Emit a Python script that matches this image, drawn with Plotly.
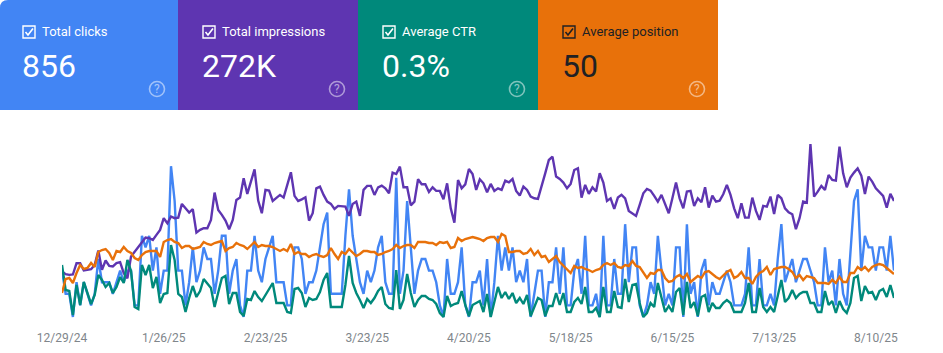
import pandas as pd
import plotly.graph_objects as go

W, H = 943, 353
dates = pd.date_range("2024-12-29", "2025-08-15").strftime("%Y-%m-%d").tolist()

tick_dates = ["2024-12-29", "2025-01-26", "2025-02-23", "2025-03-23", "2025-04-20",
              "2025-05-18", "2025-06-15", "2025-07-13", "2025-08-10"]
tick_labels = ["12/29/24", "1/26/25", "2/23/25", "3/23/25", "4/20/25",
               "5/18/25", "6/15/25", "7/13/25", "8/10/25"]

card_titles = ["Total clicks", "Total impressions", "Average CTR", "Average position"]
card_values = ["856", "272K", "0.3%", "50"]
card_colors = ["#4285f4", "#5e35b1", "#00897b", "#e8710a"]
card_inks = ["#ffffff", "#ffffff", "#ffffff", "#202124"]

clicks = [4,2,2,0,3,1,3,2,1,2,5,3,3,3,2,3,4,3,4,4,1,1,7,6,7,4,6,2,4,4,
          13,10,4,4,1,3,6,3,4,6,5,5,2,4,7,7,2,4,5,1,0,4,4,7,4,3,5,6,7,3,
          3,3,1,1,6,6,5,2,3,3,4,6,8,9,2,2,2,2,7,11,7,5,3,2,4,3,4,6,7,3,
          2,2,12,2,4,10,6,2,4,5,5,4,4,3,1,0,5,2,2,3,6,1,0,3,3,4,1,5,0,3,
          7,4,6,4,6,3,4,3,5,0,2,4,4,0,3,3,6,2,6,1,1,4,5,2,7,1,1,2,0,7,
          1,1,5,2,2,8,3,6,6,1,0,1,3,2,7,4,1,2,1,6,6,0,8,2,3,0,4,5,1,3,
          2,2,3,4,3,1,1,1,2,6,1,1,5,1,1,2,1,5,8,3,4,5,3,4,5,5,4,3,1,1,
          6,3,4,1,5,2,1,6,10,11,4,7,6,6,4,6,6,4,7,4]

impressions = [455,428,421,425,538,538,465,475,478,521,665,471,565,511,505,538,548,438,388,605,
               655,705,755,795,788,771,821,871,988,938,1005,988,994,1131,1088,1044,1078,844,871,888,
               888,971,1244,1071,1021,964,878,971,1171,1194,1387,1231,1354,1477,1164,1038,1271,1264,1161,1194,
               1221,1194,1321,1447,1211,1161,1177,1197,964,1038,1287,1304,1221,1154,1131,1081,1111,
               1104,1104,1011,1131,1154,1011,1271,1311,1311,1221,1297,1314,1287,1237,1444,1430,1504,1297,1297,1117,
               1154,1377,1327,1327,1251,1297,1261,1261,1177,1337,1087,944,1370,1287,1327,1480,1430,1271,1377,1337,
               1247,1331,1261,1287,1271,1364,1347,1380,1261,1214,1304,1271,1204,1187,1181,1321,1437,1570,1604,1404,
               1380,1344,1287,1331,1470,1487,1194,1321,1231,1297,1254,1437,1344,1161,1187,1081,1194,1221,
               1187,1061,1038,1011,1121,1237,1281,1264,1211,1154,1221,1131,1038,1187,1344,1187,1087,1254,1261,1111,
               1187,1147,1297,1094,1214,1154,1164,1227,1321,1221,1087,988,1137,994,994,1194,1061,971,1111,1104,
               1204,1031,1221,1187,1087,1047,1027,878,988,1154,1144,1730,1204,1254,1311,1271,1420,1371,1364,1704,
               1437,1297,1394,1444,1487,1414,1231,1404,1354,1287,1254,1211,1094,1231,1161]

ctr = [.52,.27,.26,.02,.32,.12,.35,.24,.13,.22,.42,.37,.30,.34,.24,.30,.40,.34,.57,.46,
       .10,.08,.52,.42,.52,.29,.40,.14,.23,.24,.72,.57,.23,.20,.05,.19,.31,.20,.26,.38,
       .34,.29,.10,.24,.39,.41,.13,.24,.24,.05,.01,.18,.17,.26,.20,.16,.22,.27,.34,.14,
       .14,.14,.05,.04,.28,.29,.24,.10,.19,.17,.18,.25,.37,.44,.10,.10,.10,
       .10,.32,.61,.34,.24,.17,.09,.18,.14,.19,.26,.30,.13,.09,.08,.47,.08,.17,.43,.24,
       .10,.17,.21,.21,.18,.17,.13,.04,.00,.21,.11,.13,.14,.26,.12,.01,.12,.14,.16,.05,
       .23,.00,.14,.30,.19,.25,.18,.24,.14,.19,.13,.22,.01,.10,.19,.17,.01,.11,.11,.24,
       .12,.24,.05,.05,.15,.19,.13,.30,.05,.05,.09,.00,.30,.05,.05,.26,.10,.09,.38,.15,
       .32,.33,.14,.00,.04,.14,.10,.34,.19,.05,.11,.05,.25,.29,.02,.35,.09,.15,.01,.20,
       .22,.05,.14,.09,.09,.14,.17,.14,.05,.05,.05,.14,.34,.05,.05,.29,.10,.05,.10,.05,
       .22,.37,.15,.19,.27,.19,.23,.25,.25,.14,.14,.05,.05,.26,.12,.16,.04,.16,.08,.04,
       .14,.39,.41,.16,.31,.24,.25,.17,.26,.28,.20,.32,.19]

position = [88,74,73,78,68,60,64,63,58,62,47,45,44,48,55,46,47,42,46,48,
            53,55,50,47,46,46,46,52,37,35,34,37,38,43,41,41,44,43,42,37,
            39,40,38,37,36,46,43,42,38,40,41,44,40,37,42,40,41,41,42,44,
            46,44,46,39,49,47,49,49,52,50,49,51,52,50,43,49,54,
            47,49,44,48,51,49,46,46,47,47,50,49,47,46,44,40,43,41,40,40,43,
            37,37,37,38,38,40,37,38,37,43,42,33,36,34,33,32,33,34,36,33,
            32,32,37,29,31,47,47,46,46,49,48,44,50,46,52,51,57,54,51,57,
            61,65,68,61,63,62,64,65,67,65,64,60,58,60,58,62,63,
            60,61,56,61,62,67,73,68,69,65,65,73,77,76,72,70,73,69,77,74,
            71,73,67,66,69,72,74,70,67,65,73,71,67,73,73,79,72,68,66,62,
            70,64,63,62,62,64,67,73,70,75,71,72,73,78,78,78,79,75,78,72,
            77,77,68,68,62,65,62,66,62,60,59,60,63,66,69]

for name, s in [("clicks", clicks), ("impressions", impressions), ("ctr", ctr), ("position", position)]:
    assert len(s) == len(dates), (name, len(s), len(dates))


def px(x):
    return x / W


def py(y):
    return 1 - y / H


def path(*pts, close=False):
    s = "M " + " L ".join(f"{px(a):.5f} {py(b):.5f}" for a, b in pts)
    return s + (" Z" if close else "")


fig = go.Figure()
series = [
    (position, "Average position", "#e8710a", "y4"),
    (ctr, "Average CTR", "#00897b", "y3"),
    (impressions, "Total impressions", "#5e35b1", "y2"),
    (clicks, "Total clicks", "#4285f4", "y"),
]
for vals, name, color, axis in series:
    fig.add_trace(go.Scatter(x=dates, y=vals, name=name, mode="lines", yaxis=axis,
                             cliponaxis=False, line=dict(color=color, width=2.4)))

shapes, annos = [], []
for k, (title, value, color, ink) in enumerate(zip(card_titles, card_values, card_colors, card_inks)):
    left = 178 + 180 * (k - 1) if k else 0
    right = 178 + 180 * k
    base = 180 * k
    if k == 0:
        d = (f"M {px(0)} {py(110)} L {px(0)} {py(8)} Q {px(0)} {py(0)} {px(8)} {py(0)} "
             f"L {px(right)} {py(0)} L {px(right)} {py(110)} Z")
    else:
        d = path((left, 0), (right, 0), (right, 110), (left, 110), close=True)
    shapes.append(dict(type="path", path=d, xref="paper", yref="paper",
                       fillcolor=color, line=dict(width=0), layer="below"))
    # checkbox
    shapes.append(dict(type="rect", xref="paper", yref="paper", x0=px(base + 23), x1=px(base + 35),
                       y0=py(38), y1=py(26), line=dict(color=ink, width=1.4)))
    shapes.append(dict(type="path", xref="paper", yref="paper",
                       path=path((base + 25.5, 32), (base + 28, 35), (base + 33, 28.5)),
                       line=dict(color=ink, width=1.6)))
    annos.append(dict(text=title, x=px(base + 40), y=py(31.5), xref="paper", yref="paper",
                      xanchor="left", yanchor="middle", showarrow=False,
                      font=dict(family="Roboto", size=13, color=ink)))
    annos.append(dict(text=value, x=px(base + 20), y=py(65.5), xref="paper", yref="paper",
                      xanchor="left", yanchor="middle", showarrow=False,
                      font=dict(family="Roboto", size=32, color=ink)))
    # help icon
    cx = base + 157
    shapes.append(dict(type="circle", xref="paper", yref="paper", x0=px(cx - 7.5), x1=px(cx + 7.5),
                       y0=py(96.5), y1=py(81.5), line=dict(color="rgba(255,255,255,0.5)", width=1.6)))
    annos.append(dict(text="?", x=px(cx), y=py(89), xref="paper", yref="paper",
                      xanchor="center", yanchor="middle", showarrow=False,
                      font=dict(family="Roboto", size=12, color="rgba(255,255,255,0.55)")))

dom_y = [py(320), py(130)]
hidden = dict(visible=False, domain=dom_y, fixedrange=True, automargin=False)
fig.update_layout(
    width=W, height=H, margin=dict(l=0, r=0, t=0, b=0, autoexpand=False),
    paper_bgcolor="white", plot_bgcolor="white", showlegend=False,
    shapes=shapes, annotations=annos,
    xaxis=dict(type="date", domain=[px(62), px(894)], range=[dates[0], dates[-1]],
               automargin=False,
               tickmode="array", tickvals=tick_dates, ticktext=tick_labels, tickangle=0,
               showgrid=False, zeroline=False, showline=False, ticks="",
               ticklabelstandoff=9,
               tickfont=dict(family="Roboto", size=12, color="#80868b")),
    yaxis=dict(range=[-0.26, 16.12], **hidden),
    yaxis2=dict(range=[-30, 1870], overlaying="y", **hidden),
    yaxis3=dict(range=[-0.03, 1.87], overlaying="y", **hidden),
    yaxis4=dict(range=[115, -75], overlaying="y", **hidden),
)
fig.write_html("out.html", post_script="document.body.style.margin='0';",
               config={"displayModeBar": False})
